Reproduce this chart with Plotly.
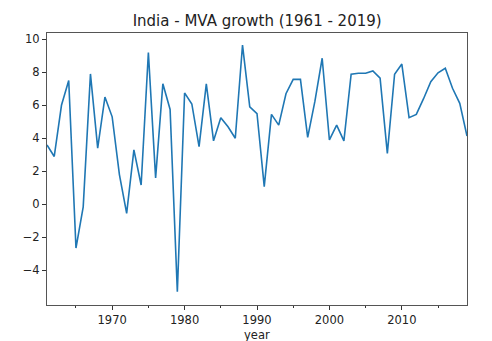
import plotly.graph_objects as go

years = list(range(1961, 2020))
growth = [3.6, 2.9, 6.0, 7.5, -2.65, -0.15, 7.9, 3.4, 6.5, 5.3,
          1.8, -0.55, 3.3, 1.17, 9.2, 1.6, 7.3, 5.75, -5.3, 6.75,
          6.08, 3.5, 7.3, 3.85, 5.25, 4.7, 4.0, 9.65, 5.9, 5.5,
          1.07, 5.45, 4.8, 6.7, 7.57, 7.57, 4.06, 6.25, 8.85, 3.9,
          4.8, 3.84, 7.88, 7.94, 7.94, 8.08, 7.64, 3.09, 7.88, 8.5,
          5.25, 5.45, 6.4, 7.43, 7.97, 8.24, 7.03, 6.12, 4.14]

title_text = "India - MVA growth (1961 - 2019)"
x_label = "year"
y_ticks = [-4, -2, 0, 2, 4, 6, 8, 10]
x_ticks = [1970, 1980, 1990, 2000, 2010]

fig = go.Figure()
fig.add_trace(go.Scatter(x=years, y=growth, mode="lines",
                         line=dict(color="#1f77b4", width=1.6),
                         showlegend=False))

font = dict(family="DejaVu Sans", size=11.5, color="#222222")
fig.update_layout(
    width=492, height=341,
    margin=dict(l=47, r=25, t=33, b=36),
    paper_bgcolor="white", plot_bgcolor="white",
    font=font,
    title=dict(text=title_text, x=0.5227, xanchor="center", y=0.94, yanchor="middle",
               font=dict(family="DejaVu Sans", size=15, color="#222222")),
    annotations=[dict(text=x_label, xref="paper", yref="paper", x=0.5, y=-0.11,
                      xanchor="center", yanchor="middle", showarrow=False,
                      font=dict(family="DejaVu Sans", size=11.5, color="#222222"))],
)
fig.update_xaxes(
    range=[1961, 2019], tickvals=x_ticks, ticks="outside", ticklen=4,
    tickcolor="#333333", showline=True, linecolor="#555555", linewidth=1,
    mirror=True, showgrid=False, zeroline=False, automargin=False,
    minor=dict(dtick=5, tick0=1965, ticks="outside", ticklen=2, tickcolor="#333333", showgrid=False),
)
fig.update_yaxes(
    range=[-6.1, 10.38], tickvals=y_ticks, ticks="outside", ticklen=4,
    tickcolor="#333333", showline=True, linecolor="#555555", linewidth=1,
    mirror=True, showgrid=False, zeroline=False, automargin=False,
)
fig.write_html("out.html")
